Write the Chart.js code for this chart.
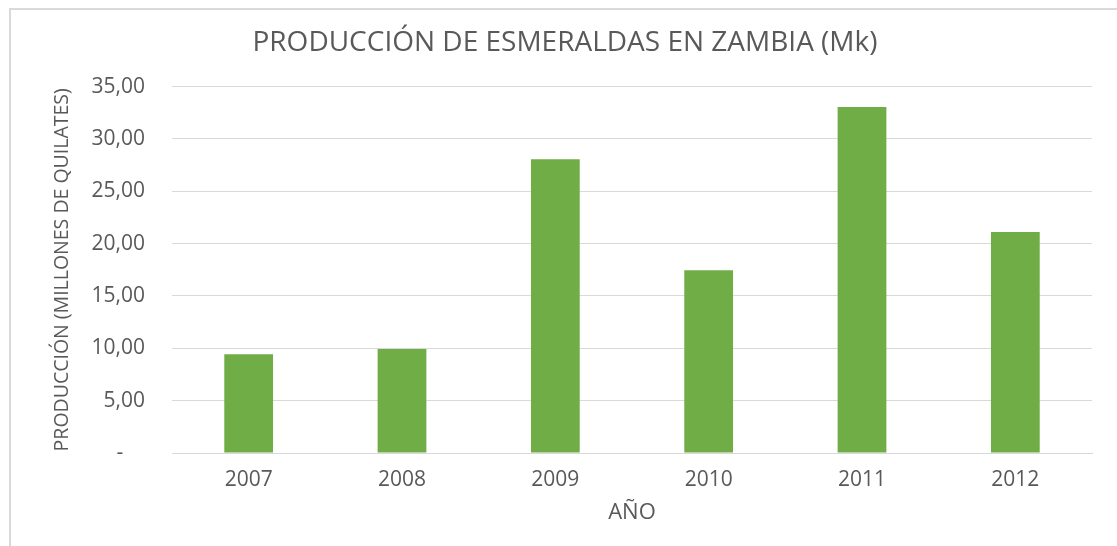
<!DOCTYPE html>
<html>
<head>
<meta charset="utf-8">
<script src="https://cdn.jsdelivr.net/npm/chart.js@4"></script>
<style>
  html, body { margin: 0; padding: 0; background: #fff; }
  #wrap { position: relative; width: 1117px; height: 546px; overflow: hidden; }
  #frame { position: absolute; left: 9px; top: 8px; right: -4px; bottom: -4px;
           border-left: 2px solid #d9d9d9; border-top: 2px solid #d9d9d9; pointer-events: none; }
  canvas { position: absolute; left: 0; top: 0; }
</style>
</head>
<body>
<div id="wrap">
  <canvas id="chart" width="1117" height="546"></canvas>
  <div id="frame"></div>
</div>
<script>
  const years = ['2007', '2008', '2009', '2010', '2011', '2012'];
  const production = [9.43, 9.93, 28.05, 17.45, 33.05, 21.1];

  const textColor = '#595959';
  const gridColor = '#d9d9d9';
  const fontFamily = "'Open Sans', sans-serif";

  function tickLabel(value) {
    if (value === 0) return '-    ';
    return value.toFixed(2).replace('.', ',');
  }

  new Chart(document.getElementById('chart'), {
    type: 'bar',
    data: {
      labels: years,
      datasets: [{
        data: production,
        backgroundColor: '#70ad47',
        borderWidth: 0,
        categoryPercentage: 1,
        barPercentage: 0.318
      }]
    },
    options: {
      responsive: false,
      animation: false,
      layout: { padding: { left: 13, right: 0, top: 0, bottom: 0 } },
      scales: {
        x: {
          grid: { display: false },
          border: { color: gridColor, width: 1 },
          ticks: { color: textColor, font: { family: fontFamily, size: 21 }, padding: 6 },
          title: { display: true, text: 'AÑO', color: textColor, font: { family: fontFamily, size: 22 }, padding: { top: 0, bottom: 20 } },
          afterFit(scale) { scale.height = 93; }
        },
        y: {
          min: 0,
          max: 35,
          grid: { color: gridColor, lineWidth: 1, drawTicks: false },
          border: { display: false },
          ticks: { stepSize: 5, color: textColor, font: { family: fontFamily, size: 21 }, padding: 27, callback: tickLabel },
          title: { display: true, text: 'PRODUCCIÓN (MILLONES DE QUILATES)', color: textColor, font: { family: fontFamily, size: 19.5 }, padding: { top: 38, bottom: 0 } },
          afterFit(scale) { scale.width = 159; }
        },
        yRight: {
          position: 'right',
          grid: { display: false },
          border: { display: false },
          ticks: { display: false },
          afterFit(scale) { scale.width = 25; }
        }
      },
      plugins: {
        legend: { display: false },
        tooltip: { enabled: false },
        title: {
          display: true,
          text: 'PRODUCCIÓN DE ESMERALDAS EN ZAMBIA (Mk)',
          color: textColor,
          font: { family: fontFamily, size: 28, weight: 'normal' },
          padding: { top: 26, bottom: 27 }
        }
      }
    }
  });
</script>
</body>
</html>
